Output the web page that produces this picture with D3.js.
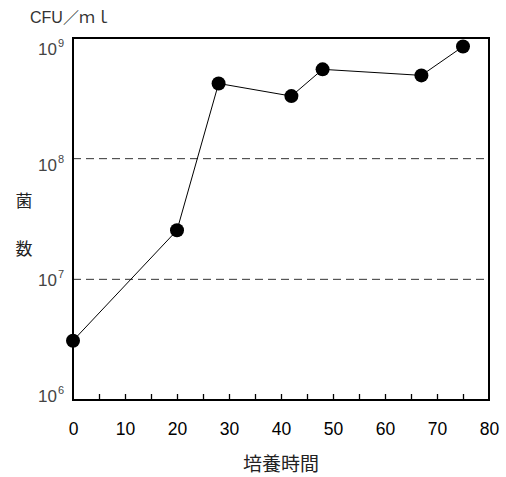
<!DOCTYPE html>
<html>
<head>
<meta charset="utf-8">
<script src="https://cdn.jsdelivr.net/npm/d3@7"></script>
<style>
  body { margin: 0; background: #fff; }
  text { font-family: "Liberation Sans", Arial, sans-serif; }
  .jp { font-family: "Noto Sans CJK JP", sans-serif; }
</style>
</head>
<body>
<script>
const hours = [0, 20, 28, 42, 48, 67, 75];
const cfu = [3.1e6, 2.55e7, 4.2e8, 3.3e8, 5.5e8, 4.9e8, 8.5e8];
const xTickLabels = [0, 10, 20, 30, 40, 50, 60, 70, 80];
const xMinorTicks = d3.range(5, 80, 5);
const yExponents = [6, 7, 8, 9];
const gridExponents = [7, 8];

const w = 506;
const h = 477;
const padL = 73, padR = 489, padT = 38, padB = 400;

const svg = d3.select("body")
              .append("svg")
              .attr("width", w)
              .attr("height", h);

const xScale = d3.scaleLinear().domain([0, 80]).range([padL, padR]);
const yScale = d3.scaleLog().domain([1e6, 1e9]).range([padB, padT]);

// dashed grid lines
svg.selectAll(".grid")
   .data(gridExponents)
   .enter()
   .append("line")
   .attr("x1", padL)
   .attr("x2", padR)
   .attr("y1", d => yScale(Math.pow(10, d)))
   .attr("y2", d => yScale(Math.pow(10, d)))
   .attr("stroke", "#333")
   .attr("stroke-width", 1)
   .attr("stroke-dasharray", "8,5");

// minor ticks pointing up from the bottom
svg.append("g")
   .attr("transform", `translate(0, ${padB})`)
   .call(d3.axisBottom(xScale).tickValues(xMinorTicks).tickSizeInner(-6).tickSizeOuter(0).tickFormat(""))
   .call(g => g.select(".domain").remove())
   .call(g => g.selectAll("line").attr("stroke", "#000").attr("stroke-width", 1.3));

// x tick labels
svg.append("g")
   .attr("transform", `translate(0, ${padB})`)
   .call(d3.axisBottom(xScale).tickValues(xTickLabels).tickSize(0).tickPadding(23).tickFormat(d3.format("d")))
   .call(g => g.select(".domain").remove())
   .call(g => g.selectAll("text").attr("font-size", 17.5).attr("fill", "#000")
                .style("font-family", "'Liberation Sans', Arial, sans-serif"));

// y tick labels 10^n
const yLab = svg.selectAll(".ylab")
   .data(yExponents)
   .enter()
   .append("text")
   .attr("class", "ylab")
   .attr("x", 64)
   .attr("y", d => yScale(Math.pow(10, d)) + (d - 6) * 5 + 2)
   .attr("text-anchor", "end")
   .attr("font-size", 17)
   .attr("fill", "#444");
yLab.append("tspan").text("10");
yLab.append("tspan").attr("dx", 1).attr("dy", -8).attr("font-size", 11).text(d => d);

// frame
svg.append("rect")
   .attr("x", padL)
   .attr("y", padT)
   .attr("width", padR - padL)
   .attr("height", padB - padT)
   .attr("fill", "none")
   .attr("stroke", "#000")
   .attr("stroke-width", 2);

// data line
const line = d3.line()
   .x((d, i) => xScale(hours[i]))
   .y(d => yScale(d));

svg.append("path")
   .datum(cfu)
   .attr("d", line)
   .attr("fill", "none")
   .attr("stroke", "#000")
   .attr("stroke-width", 1);

svg.selectAll(".dot")
   .data(cfu)
   .enter()
   .append("circle")
   .attr("class", "dot")
   .attr("cx", (d, i) => xScale(hours[i]))
   .attr("cy", d => yScale(d))
   .attr("r", 7)
   .attr("fill", "#000");

// axis titles
svg.append("text")
   .attr("x", 30)
   .attr("y", 23)
   .attr("font-size", 16)
   .attr("fill", "#333")
   .text("CFU")
   .append("tspan")
   .attr("class", "jp")
   .text("／ｍｌ");

svg.append("text")
   .attr("class", "jp")
   .attr("x", 281)
   .attr("y", 471)
   .attr("text-anchor", "middle")
   .attr("font-size", 19)
   .attr("fill", "#222")
   .text("培養時間");

["菌", "数"].forEach((c, i) => {
   svg.append("text")
      .attr("class", "jp")
      .attr("x", 24)
      .attr("y", 207 + i * 48)
      .attr("text-anchor", "middle")
      .attr("font-size", 17)
      .attr("fill", "#222")
      .text(c);
});
</script>
</body>
</html>
